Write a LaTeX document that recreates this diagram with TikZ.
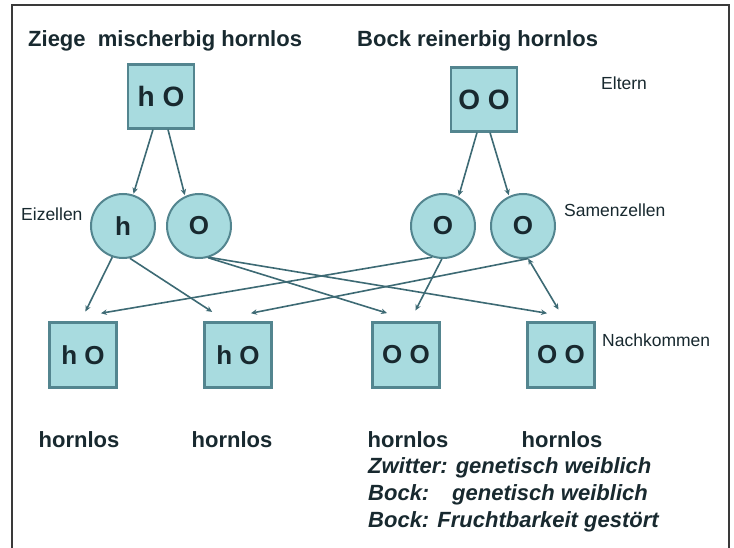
\documentclass[tikz,border=0pt]{standalone}
\usepackage{fontspec}
\setmainfont{Liberation Sans}
\usetikzlibrary{arrows.meta}
\definecolor{boxfill}{HTML}{A8DBDF}
\definecolor{boxline}{HTML}{53858F}
\definecolor{conn}{HTML}{3D6A74}
\definecolor{ink}{HTML}{18292F}
\definecolor{frame}{HTML}{3A3A3A}
\tikzset{
  pbox/.style={draw=boxline, line width=2.2pt, fill=boxfill, minimum width=66pt, minimum height=64pt, inner sep=0pt, text=ink, font=\fontsize{28}{30}\selectfont\bfseries},
  cbox/.style={draw=boxline, line width=2.2pt, fill=boxfill, minimum width=67pt, minimum height=65pt, inner sep=0pt, text=ink, font=\fontsize{26}{28}\selectfont\bfseries},
  cell/.style={circle, draw=boxline, line width=2pt, fill=boxfill, minimum size=64pt, inner sep=0pt, text=ink, font=\fontsize{26}{28}\selectfont\bfseries},
  conn/.style={draw=conn, line width=1.6pt, -{Stealth[length=6pt,width=5.5pt]}, shorten >=1pt},
  bigtxt/.style={text=ink, inner sep=0pt, font=\fontsize{22}{24}\selectfont\bfseries},
  ittxt/.style={text=ink, inner sep=0pt, font=\fontsize{22}{24}\selectfont\bfseries\itshape},
  smalltxt/.style={text=ink, inner sep=0pt, font=\fontsize{17.5}{19}\selectfont}
}
\begin{document}
\begin{tikzpicture}[x=1pt, y=-1pt]
\useasboundingbox (0,0) rectangle (734,548);
\fill[white] (0,0) rectangle (734,548);
\draw[frame, line width=1.5pt] (12,548) -- (12,5) -- (729,5) -- (729,548);

% titles
\node[bigtxt, anchor=base west] (t1) at (28,47) {Ziege\ \ mischerbig hornlos};
\node[bigtxt, anchor=base west] (t2) at (357,47) {Bock reinerbig hornlos};

% small labels
\node[smalltxt, anchor=base west] (lel) at (601,90) {Eltern};
\node[smalltxt, anchor=base west] (lei) at (21,221) {Eizellen};
\node[smalltxt, anchor=base west] (lsa) at (564,217) {Samenzellen};
\node[smalltxt, anchor=base west] (lna) at (602,346) {Nachkommen};

% parents
\node[pbox] (p1) at (161,96.5) {h O};
\node[pbox] (p2) at (484,99.5) {O O};

% gametes
\node[cell] (eh) at (123,226) {h};
\node[cell] (eo) at (199,226) {O};
\node[cell] (sl) at (443,226) {O};
\node[cell] (sr) at (523,226) {O};

% offspring
\node[cbox] (c1) at (83,355) {h O};
\node[cbox] (c2) at (238,355) {h O};
\node[cbox] (c3) at (406,355) {O O};
\node[cbox] (c4) at (561,355) {O O};

% parents -> gametes
\draw[conn] ([xshift=-8pt]p1.south) -- (eh.72);
\draw[conn] ([xshift=7pt]p1.south) -- (eo.115);
\draw[conn] ([xshift=-7pt]p2.south) -- (sl.62);
\draw[conn] ([xshift=6pt]p2.south) -- (sr.115);

% gametes -> offspring
\draw[conn] (eh.251) -- ([xshift=2pt,yshift=9pt]c1.north);
\draw[conn] (eh.282) -- ([xshift=-25pt,yshift=9pt]c2.north);
\draw[conn] (eo.286) -- ([xshift=-18pt,yshift=8pt]c3.north);
\draw[conn] (eo.288) -- ([xshift=-13pt,yshift=8pt]c4.north);
\draw[conn] (sl.251) -- ([xshift=17pt,yshift=8pt]c1.north);
\draw[conn] (sl.268) -- ([xshift=9pt,yshift=10pt]c3.north);
\draw[conn] (sr.279) -- ([xshift=12pt,yshift=8pt]c2.north);
\draw[conn, {Stealth[length=6pt,width=5.5pt]}-{Stealth[length=6pt,width=5.5pt]}] (sr.279) -- ([xshift=-2pt,yshift=11pt]c4.north);

% captions
\node[bigtxt, anchor=base] (h1) at (79,447) {hornlos};
\node[bigtxt, anchor=base] (h2) at (232,447) {hornlos};
\node[bigtxt, anchor=base] (h3) at (408,447) {hornlos};
\node[bigtxt, anchor=base] (h4) at (562,447) {hornlos};

\node[ittxt, anchor=base west] (i1) at (368,473) {Zwitter: genetisch weiblich};
\node[ittxt, anchor=base west] (i2) at (368,500) {\makebox[84pt][l]{Bock:}genetisch weiblich};
\node[ittxt, anchor=base west] (i3) at (368,527) {Bock: Fruchtbarkeit gestört};
\end{tikzpicture}
\end{document}
